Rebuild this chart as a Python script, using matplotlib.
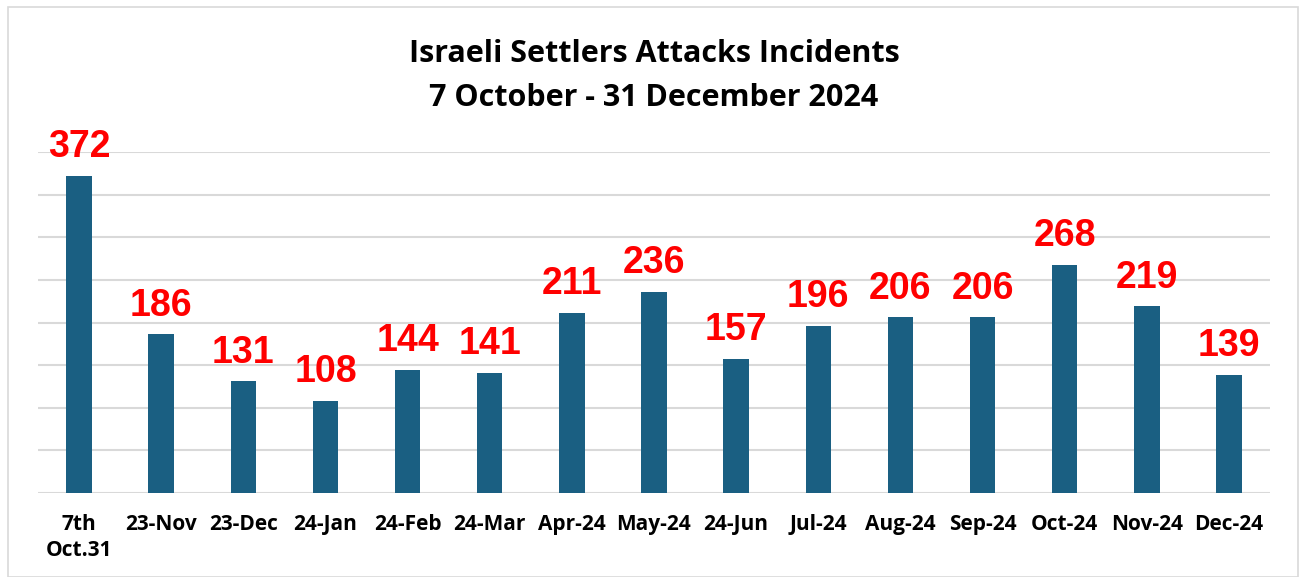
import matplotlib
matplotlib.use("Agg")
import matplotlib.pyplot as plt
from matplotlib.patches import Rectangle

categories = ["7th\nOct.31", "23-Nov", "23-Dec", "24-Jan", "24-Feb", "24-Mar", "Apr-24",
              "May-24", "24-Jun", "Jul-24", "Aug-24", "Sep-24", "Oct-24", "Nov-24", "Dec-24"]
values = [372, 186, 131, 108, 144, 141, 211, 236, 157, 196, 206, 206, 268, 219, 139]
title = "Israeli Settlers Attacks Incidents\n7 October - 31 December 2024"

W, H = 1299, 577
fig = plt.figure(figsize=(W / 100, H / 100), dpi=100)
fig.patch.set_facecolor("white")

# border
fig.add_artist(Rectangle((8 / W, 0), (1298 - 8) / W, (H - 7) / H, transform=fig.transFigure,
                         fill=False, edgecolor="#D9D9D9", linewidth=1.2))

ax = fig.add_axes([38 / W, 1 - 493 / H, (1270 - 38) / W, (493 - 152) / H])
x = list(range(len(values)))
bars = ax.bar(x, values, width=0.31, color="#1A5F82", zorder=3)
ax.set_xlim(-0.5, len(values) - 0.5)
ax.set_ylim(0, 400)
ax.set_yticks(range(0, 401, 50))
ax.yaxis.grid(True, color="#D9D9D9", linewidth=1.5, zorder=0)
ax.set_yticklabels([])
ax.tick_params(axis="y", length=0)
ax.tick_params(axis="x", length=0, pad=15)
for s in ax.spines.values():
    s.set_visible(False)
ax.set_xticks(x)
ax.set_xticklabels(categories, fontsize=15, fontweight="bold", family="Open Sans", linespacing=1.35)

for xi, v in zip(x, values):
    ax.annotate(str(v), (xi, v), xytext=(0, 13.5), textcoords="offset points",
                ha="center", va="baseline", color="#FF0000", fontsize=27,
                fontweight="bold", family="Liberation Sans", clip_on=False)

fig.text(654 / W, 1 - 76 / H, title, ha="center", va="center", fontsize=22,
         fontweight="bold", family="Open Sans", linespacing=1.65)

fig.savefig("out.png", dpi=100)
